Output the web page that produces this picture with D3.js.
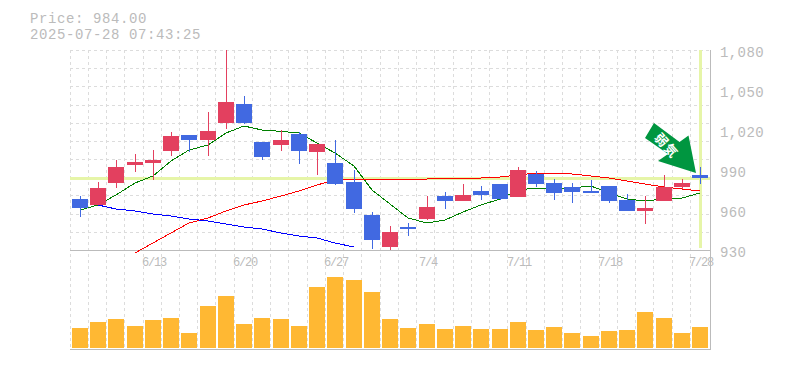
<!DOCTYPE html>
<html>
<head>
<meta charset="utf-8">
<script src="https://cdn.jsdelivr.net/npm/d3@7"></script>
<style>
html, body { margin: 0; padding: 0; background: #fff; }
svg { display: block; }
text { font-family: "Liberation Mono", "DejaVu Sans Mono", monospace; fill: #bbb; }
</style>
</head>
<body>
<div id="chart"></div>
<script>
// Graph size
const grf_width = 785;
const grf_height = 370;

const dates = ["6/9", "6/10", "6/11", "6/12", "6/13", "6/16", "6/17", "6/18", "6/19", "6/20",
    "6/23", "6/24", "6/25", "6/26", "6/27", "6/30", "7/1", "7/2", "7/3", "7/4",
    "7/7", "7/8", "7/9", "7/10", "7/11", "7/14", "7/15", "7/16", "7/17", "7/18",
    "7/22", "7/23", "7/24", "7/25", "7/28"];
const tickDates = ["6/13", "6/20", "6/27", "7/4", "7/11", "7/18", "7/28"];
const priceTicks = [930, 960, 990, 1020, 1050, 1080];

const opens = [968, 963.75, 980, 994, 995, 1004, 1016, 1012.5, 1025, 1039.5,
    1011, 1008.75, 1017, 1003.5, 995.25, 981, 956.25, 932.25, 947.25, 953.25,
    970.5, 966.75, 974.25, 979.5, 969.75, 987, 980.25, 977.25, 974.25, 978,
    967.5, 959.25, 966.75, 977.25, 986.25];
const closes = [961.5, 976.5, 992, 996, 997.5, 1015.5, 1012.5, 1019, 1041, 1025,
    999.75, 1012.5, 1004.25, 1009.5, 979.5, 960.75, 937.5, 943.5, 945.75, 962.25,
    966.75, 971.25, 971.25, 968.25, 990, 979.5, 972.75, 973.5, 972.75, 966.75,
    959.25, 961.5, 977.25, 980.25, 984];
const highs = [970.5, 981, 997.5, 1002, 1005, 1018.5, 1016, 1033.5, 1085, 1045.5,
    1011, 1020, 1018.5, 1009.5, 1012.5, 990, 958.5, 948, 950.25, 970.5,
    973.5, 979.5, 978, 979.5, 992.25, 989.25, 983.25, 980.25, 982.5, 978,
    972, 970.5, 986.25, 983.25, 992.25];
const lows = [955, 964, 976.5, 988.5, 982.5, 1000.5, 1003.5, 1000.5, 1020.75, 1024.5,
    997.5, 1004.25, 994.5, 986.25, 978.75, 957.75, 930.75, 929.25, 940.5, 952.5,
    960.75, 966.75, 967.5, 967.5, 969.75, 977.25, 967.5, 965.25, 972.75, 965.25,
    959.25, 949.5, 966.75, 975.75, 979.5];
const volumes = [20, 26, 29, 22, 28, 30, 15, 42, 52, 24,
    30, 29, 22, 61, 71, 68, 56, 29, 20, 24,
    19, 22, 19, 19, 26, 18, 21, 15, 12, 17,
    18, 36, 30, 15, 21];

// moving averages, null where the average is not drawn
const maShort = [960, 963.75, 971.25, 980.25, 985.5, 996.75, 1005, 1008.75, 1017.75, 1023,
    1020, 1019, 1017.75, 1010.25, 1002.75, 993, 975, 964.5, 954, 950.25,
    952.5, 958.5, 963.75, 968.25, 975, 976.5, 976.5, 976.5, 978, 972.75,
    968.25, 966.75, 968.25, 969, 972.75];
const maMid = [null, null, null, 927.75, 935.25, 942.75, 950.25, 954, 959.25, 963.75,
    966.75, 970.5, 974.25, 978.75, 982.5, 983.25, 983.25, 983.25, 983.25, 983.25,
    984, 984, 984, 984.75, 986.25, 987.75, 987.75, 987, 985.5, 984,
    981.75, 979.5, 977.25, 975.75, 974.25];
const maLong = [null, 963.75, 960.75, 959.25, 957, 955.5, 953.25, 951.75, 949.5, 947.25,
    945.75, 942.75, 940.5, 939, 935.25, 932.25];

const gridDivisions = 11;

const margin = { left: 70, right: 75, top: 50 };
const priceBottom = 250;
const volumeTop = 270;
const volumeBottom = 348;
const frameBottom = 350;

const COL_UP = "#e3405f";
const COL_DOWN = "#4169e1";
const COL_HILITE = "#e6f5a8";
const COL_GRID = "#dcdcdc";
const COL_FRAME = "#bbb";

const x = d3.scaleBand()
    .domain(dates)
    .range([70.88, 709.28]);
const y = d3.scaleLinear()
    .domain([930, 1080])
    .range([priceBottom, margin.top]);
const yVol = d3.scaleLinear()
    .domain([0, 78])
    .range([volumeBottom, volumeTop]);
const yGrid = d3.scaleLinear()
    .domain([0, gridDivisions])
    .range([margin.top, priceBottom]);

const cx = i => Math.round(x(dates[i]) + x.bandwidth() / 2);
const right = grf_width - margin.right;

const svg = d3.select("#chart").append("svg")
    .attr("width", grf_width)
    .attr("height", grf_height)
    .attr("shape-rendering", "crispEdges");

svg.append("defs").append("clipPath")
    .attr("id", "plot")
    .append("rect")
    .attr("x", margin.left)
    .attr("y", margin.top)
    .attr("width", right - margin.left)
    .attr("height", priceBottom - margin.top);

// header
svg.append("text").attr("x", 30).attr("y", 22.5).attr("font-size", 14).attr("letter-spacing", 0.6).text("Price: 984.00");
svg.append("text").attr("x", 30).attr("y", 38.5).attr("font-size", 14).attr("letter-spacing", 0.6).text("2025-07-28 07:43:25");

// grid
const grid = svg.append("g")
    .attr("stroke", COL_GRID)
    .attr("stroke-dasharray", "3,3");
grid.selectAll("line.h")
    .data(d3.range(gridDivisions))
    .join("line")
    .attr("class", "h")
    .attr("x1", margin.left)
    .attr("x2", right)
    .attr("y1", d => Math.round(yGrid(d)) + 0.5)
    .attr("y2", d => Math.round(yGrid(d)) + 0.5);
grid.selectAll("line.v")
    .data(dates)
    .join("line")
    .attr("class", "v")
    .attr("x1", d => Math.floor(x(d) - 0.8) + 0.5)
    .attr("x2", d => Math.floor(x(d) - 0.8) + 0.5)
    .attr("y1", margin.top)
    .attr("y2", frameBottom);

// frame
const frame = svg.append("g").attr("stroke", COL_FRAME);
frame.append("line")
    .attr("x1", margin.left).attr("x2", right + 1)
    .attr("y1", priceBottom + 0.5).attr("y2", priceBottom + 0.5);
frame.append("line")
    .attr("x1", margin.left).attr("x2", right + 1)
    .attr("y1", frameBottom - 0.5).attr("y2", frameBottom - 0.5);
frame.append("line")
    .attr("x1", right + 0.5).attr("x2", right + 0.5)
    .attr("y1", margin.top).attr("y2", frameBottom);

// current price and latest day highlight
svg.append("line")
    .attr("x1", margin.left).attr("x2", right)
    .attr("y1", y(984) + 0.5).attr("y2", y(984) + 0.5)
    .attr("stroke", COL_HILITE).attr("stroke-width", 3);
svg.append("line")
    .attr("x1", cx(34) + 0.5).attr("x2", cx(34) + 0.5)
    .attr("y1", margin.top).attr("y2", 248)
    .attr("stroke", COL_HILITE).attr("stroke-width", 3);

// moving averages
const line = d3.line()
    .defined(d => d[1] !== null)
    .x(d => cx(d[0]))
    .y(d => y(d[1]));
[[maShort, "#008000"], [maMid, "#ff0000"], [maLong, "#0000ff"]].forEach(([s, col]) => {
    svg.append("path")
        .attr("d", line(s.map((v, i) => [i, v])))
        .attr("fill", "none")
        .attr("stroke", col)
        .attr("stroke-width", 1);
});

// candles
const candle = svg.append("g").attr("clip-path", "url(#plot)");
candle.selectAll("line")
    .data(dates)
    .join("line")
    .attr("x1", (d, i) => cx(i) + 0.5)
    .attr("x2", (d, i) => cx(i) + 0.5)
    .attr("y1", (d, i) => y(highs[i]))
    .attr("y2", (d, i) => y(lows[i]))
    .attr("stroke", (d, i) => closes[i] >= opens[i] ? COL_UP : COL_DOWN);
candle.selectAll("rect")
    .data(dates)
    .join("rect")
    .attr("x", (d, i) => cx(i) - 8)
    .attr("width", 16)
    .attr("y", (d, i) => y(Math.max(opens[i], closes[i])))
    .attr("height", (d, i) => Math.abs(y(opens[i]) - y(closes[i])))
    .attr("fill", (d, i) => closes[i] >= opens[i] ? COL_UP : COL_DOWN);

// signal arrow, placed relative to the last candle
const arrowShape = [[-46, -55], [-20.5, -36], [-11.5, -42.5], [-4, -5], [-42, -17], [-32, -24], [-55, -40]];
const arrow = svg.append("g")
    .attr("transform", `translate(${cx(34)},${y(984)})`);
arrow.append("path")
    .attr("d", d3.line()(arrowShape) + "Z")
    .attr("fill", "#009640")
    .attr("shape-rendering", "auto");
arrow.append("text")
    .attr("transform", "translate(-33,-33) rotate(48)")
    .attr("text-anchor", "middle")
    .attr("dominant-baseline", "central")
    .attr("font-size", 13)
    .attr("font-weight", "bold")
    .attr("letter-spacing", 1)
    .style("font-family", '"Noto Sans CJK JP"')
    .style("fill", "#fff")
    .text("弱気");

// volume
svg.append("g").selectAll("rect")
    .data(volumes)
    .join("rect")
    .attr("x", (d, i) => cx(i) - 8)
    .attr("width", 16)
    .attr("y", d => yVol(d))
    .attr("height", d => volumeBottom - yVol(d))
    .attr("fill", "#ffb833");

// labels
svg.append("g").selectAll("text")
    .data(tickDates)
    .join("text")
    .attr("x", d => cx(dates.indexOf(d)) + 1)
    .attr("y", 266)
    .attr("text-anchor", "middle")
    .attr("font-size", 12)
    .attr("letter-spacing", -1.2)
    .text(d => d);
svg.append("g").selectAll("text")
    .data(priceTicks)
    .join("text")
    .attr("x", 720)
    .attr("y", d => y(d) + 7)
    .attr("font-size", 14)
    .attr("letter-spacing", 0.4)
    .text(d => d3.format(",")(d));
</script>
</body>
</html>
